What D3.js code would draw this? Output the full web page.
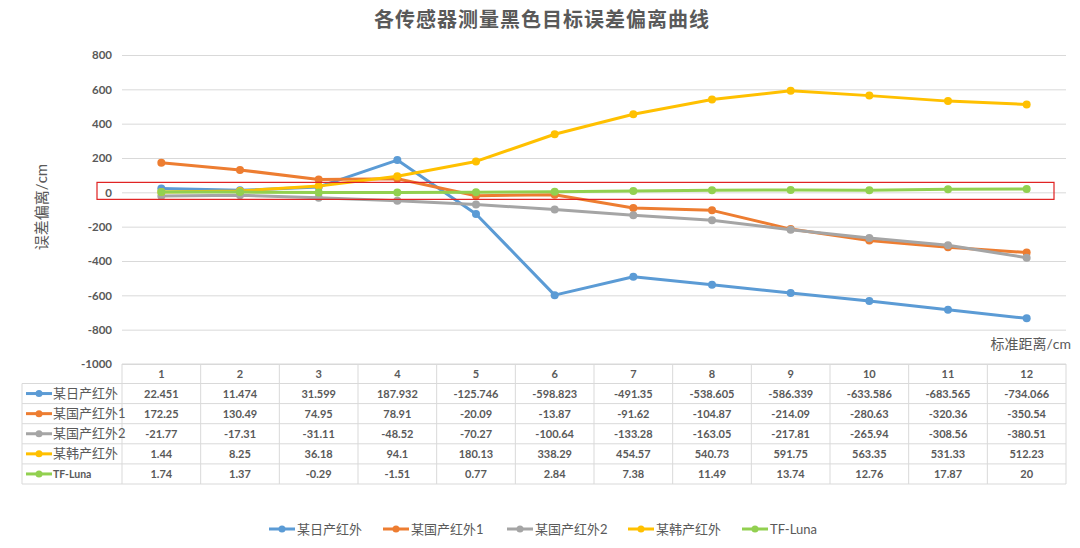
<!DOCTYPE html>
<html>
<head>
<meta charset="utf-8">
<script src="https://cdn.jsdelivr.net/npm/d3@7/dist/d3.min.js"></script>
<style>
  body { margin: 0; background: #fff; }
  svg { display: block; font-family: "Lato", "Noto Sans CJK SC", sans-serif; }
</style>
</head>
<body>
<div id="chart"></div>
<script>
'use strict';

// chart data
const distances = ['1', '2', '3', '4', '5', '6', '7', '8', '9', '10', '11', '12']
const seriesNames = ['某日产红外', '某国产红外1', '某国产红外2', '某韩产红外', 'TF-Luna']
const japanIR = [22.451, 11.474, 31.599, 187.932, -125.746, -598.823, -491.35, -538.605, -586.339, -633.586, -683.565, -734.066]
const domesticIR1 = [172.25, 130.49, 74.95, 78.91, -20.09, -13.87, -91.62, -104.87, -214.09, -280.63, -320.36, -350.54]
const domesticIR2 = [-21.77, -17.31, -31.11, -48.52, -70.27, -100.64, -133.28, -163.05, -217.81, -265.94, -308.56, -380.51]
const koreaIR = [1.44, 8.25, 36.18, 94.1, 180.13, 338.29, 454.57, 540.73, 591.75, 563.35, 531.33, 512.23]
const tfLuna = [1.74, 1.37, -0.29, -1.51, 0.77, 2.84, 7.38, 11.49, 13.74, 12.76, 17.87, 20]
const yTicks = [800, 600, 400, 200, 0, -200, -400, -600, -800, -1000]

const colors = ['#5b9bd5', '#ed7d31', '#a5a5a5', '#ffc000', '#92d050']
const seriesValues = [japanIR, domesticIR1, domesticIR2, koreaIR, tfLuna]
const series = seriesNames.map((name, i) => ({ name, color: colors[i], values: seriesValues[i] }))

const W = 1080, H = 548
const textColor = '#595959'
const gridColor = '#d9d9d9'

const svg = d3.select('#chart')
  .append('svg')
  .attr('width', W)
  .attr('height', H)

const xScale = d3.scaleBand().domain(distances).range([122, 1066])
const yScale = d3.scaleLinear().domain([-1000, 800]).range([364, 55])
const xc = d => xScale(d) + xScale.bandwidth() / 2

// title
svg.append('text')
  .attr('x', 542).attr('y', 27)
  .attr('text-anchor', 'middle')
  .attr('fill', textColor)
  .style('font-size', '20px')
  .style('font-weight', 'bold')
  .style('letter-spacing', '1px')
  .text('各传感器测量黑色目标误差偏离曲线')

// y gridlines + labels
const yAxis = svg.append('g')
  .attr('transform', 'translate(122,0)')
  .call(d3.axisLeft(yScale)
    .tickValues(yTicks)
    .tickFormat(d => String(d))
    .tickSize(-(1066 - 122))
    .tickPadding(10))
yAxis.select('.domain').remove()
yAxis.selectAll('.tick line').attr('stroke', gridColor)
yAxis.selectAll('.tick text')
  .attr('fill', textColor)
  .style('font-size', '11.5px')
  .style('font-weight', 'bold')
  .style('font-family', '"Lato", sans-serif')

// axis titles
svg.append('text')
  .attr('transform', 'translate(47,207) rotate(-90)')
  .attr('text-anchor', 'middle')
  .attr('fill', textColor)
  .style('font-size', '15px')
  .text('误差偏离/cm')

svg.append('text')
  .attr('x', 1071).attr('y', 349)
  .attr('text-anchor', 'end')
  .attr('fill', textColor)
  .style('font-size', '14px')
  .text('标准距离/cm')

// lines
const line = d3.line()
  .x((d, i) => xc(distances[i]))
  .y(d => yScale(d))

const seriesG = svg.append('g')
series.forEach(s => {
  const g = seriesG.append('g')
  g.append('path')
    .datum(s.values)
    .attr('fill', 'none')
    .attr('stroke', s.color)
    .attr('stroke-width', 3)
    .attr('stroke-linejoin', 'round')
    .attr('d', line)
  g.selectAll('circle')
    .data(s.values)
    .join('circle')
    .attr('cx', (d, i) => xc(distances[i]))
    .attr('cy', d => yScale(d))
    .attr('r', 4)
    .attr('fill', s.color)
})

// red highlight box round the zero line
svg.append('rect')
  .attr('x', 97)
  .attr('y', yScale(58))
  .attr('width', 1054 - 97)
  .attr('height', yScale(-41) - yScale(58))
  .attr('fill', 'none')
  .attr('stroke', '#e02020')
  .attr('stroke-width', 1.2)

// data table
const tableTop = 364, headH = 19.5, rowH = 20.1, labelLeft = 22
const tableBottom = tableTop + headH + rowH * series.length
const table = svg.append('g')

// header row
table.selectAll('text.head')
  .data(distances)
  .join('text')
  .attr('class', 'head')
  .attr('x', d => xc(d))
  .attr('y', tableTop + headH / 2 + 4)
  .attr('text-anchor', 'middle')
  .attr('fill', textColor)
  .style('font-size', '11px')
  .style('font-weight', 'bold')
  .text(d => d)

// horizontal borders
const hLines = [tableTop].concat(series.map((s, i) => tableTop + headH + rowH * i), [tableBottom])
table.selectAll('line.h')
  .data(hLines)
  .join('line')
  .attr('x1', (d, i) => i < 1 ? 122 : labelLeft)
  .attr('x2', 1066)
  .attr('y1', d => d).attr('y2', d => d)
  .attr('stroke', gridColor)

// vertical borders
const vLines = distances.map(d => xScale(d)).concat([1066])
table.selectAll('line.v')
  .data(vLines)
  .join('line')
  .attr('x1', d => d).attr('x2', d => d)
  .attr('y1', tableTop).attr('y2', tableBottom)
  .attr('stroke', gridColor)
table.append('line')
  .attr('x1', labelLeft).attr('x2', labelLeft)
  .attr('y1', tableTop + headH).attr('y2', tableBottom)
  .attr('stroke', gridColor)

// rows
series.forEach((s, r) => {
  const cy = tableTop + headH + rowH * r + rowH / 2
  table.append('line')
    .attr('x1', 26).attr('x2', 52)
    .attr('y1', cy).attr('y2', cy)
    .attr('stroke', s.color).attr('stroke-width', 3)
  table.append('circle')
    .attr('cx', 39).attr('cy', cy).attr('r', 3.5)
    .attr('fill', s.color)
  table.append('text')
    .attr('x', 53).attr('y', cy + 4.5)
    .attr('fill', textColor)
    .style('font-size', s.name === 'TF-Luna' ? '10.5px' : '13px')
    .style('font-weight', s.name === 'TF-Luna' ? 'bold' : 'normal')
    .text(s.name)
  table.selectAll('text.v' + r)
    .data(s.values)
    .join('text')
    .attr('x', (d, i) => xc(distances[i]))
    .attr('y', cy + 4)
    .attr('text-anchor', 'middle')
    .attr('fill', textColor)
    .style('font-size', '11px')
    .style('font-weight', 'bold')
    .text(d => String(d))
})

// legend
const legendX = [269, 383, 507, 628, 742]
const legend = svg.append('g')
series.forEach((s, i) => {
  const lx = legendX[i], ly = 529
  legend.append('line')
    .attr('x1', lx).attr('x2', lx + 26)
    .attr('y1', ly).attr('y2', ly)
    .attr('stroke', s.color).attr('stroke-width', 3)
  legend.append('circle')
    .attr('cx', lx + 13).attr('cy', ly).attr('r', 3.5)
    .attr('fill', s.color)
  legend.append('text')
    .attr('x', lx + 28).attr('y', ly + 5)
    .attr('fill', textColor)
    .style('font-size', '13px')
    .text(s.name)
})
</script>
</body>
</html>
